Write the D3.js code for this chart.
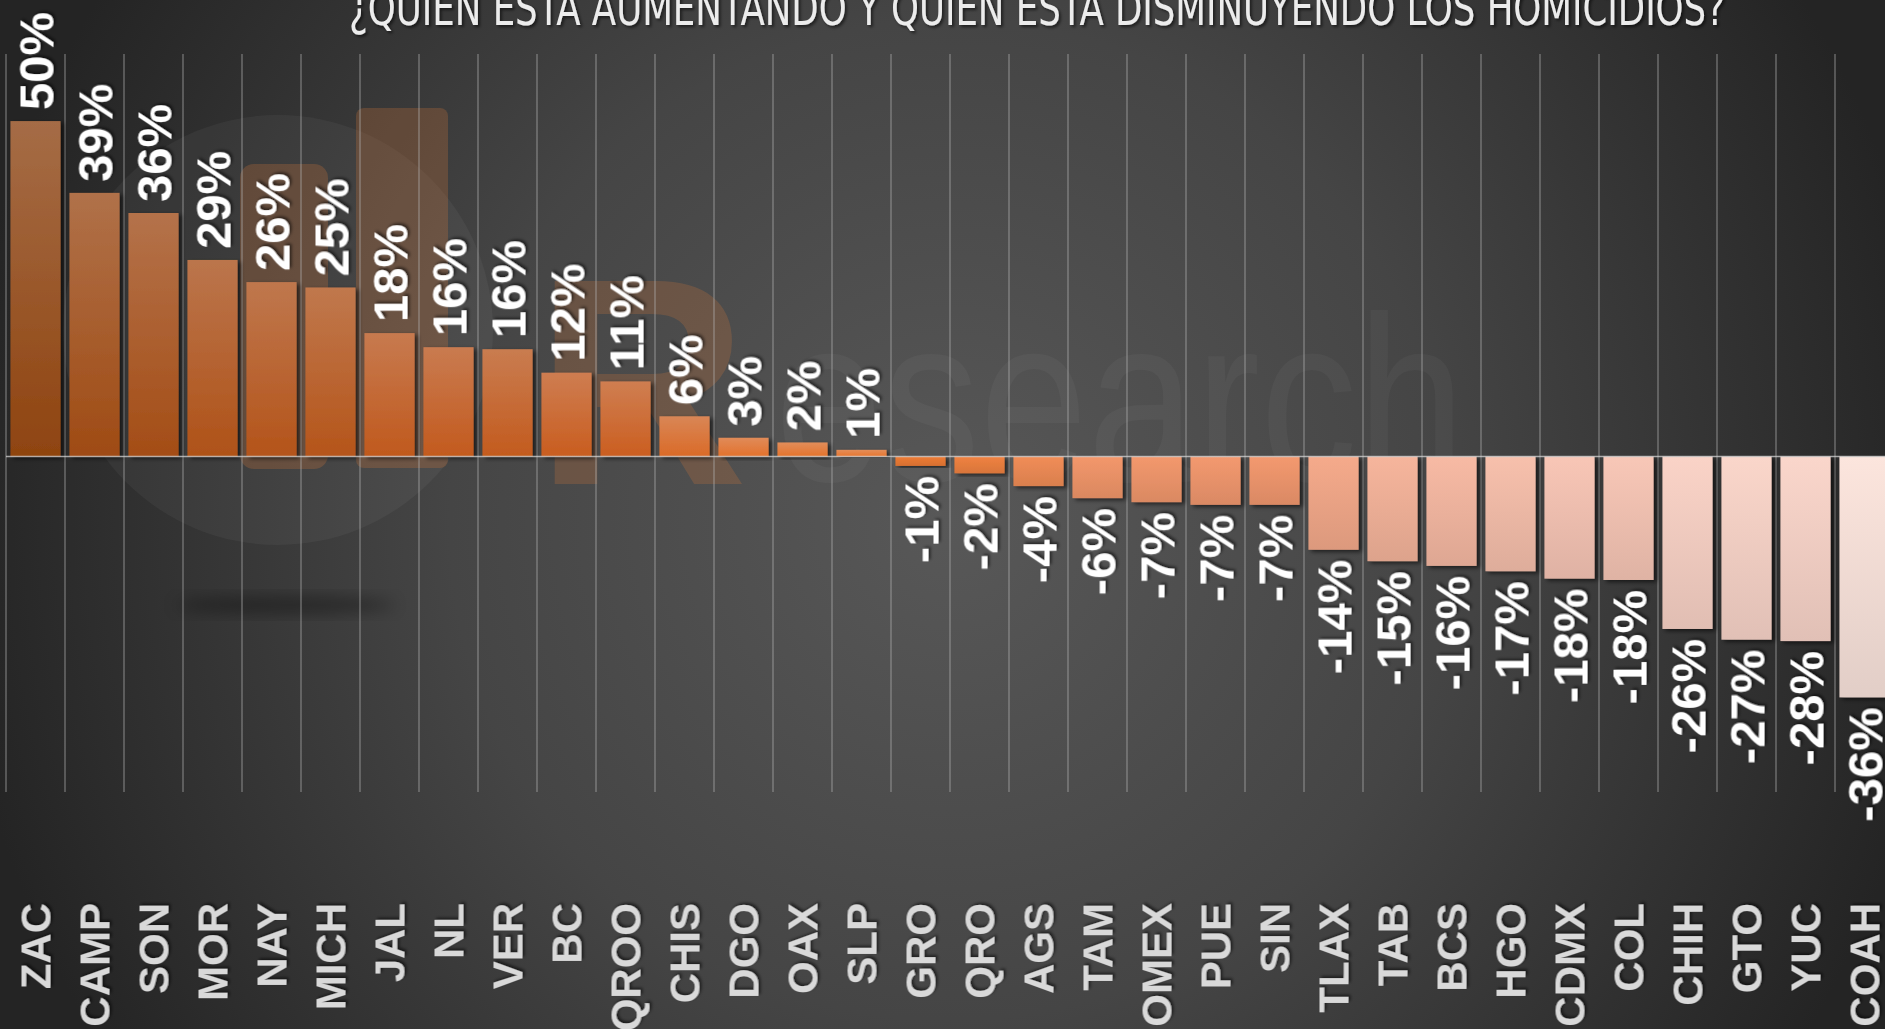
<!DOCTYPE html>
<html>
<head>
<meta charset="utf-8">
<script src="https://d3js.org/d3.v7.min.js"></script>
<style>
	body { margin: 0; overflow: hidden; background: #2a2a2a; }
</style>
</head>
<body>
<script>
var titulo = "¿QUIEN ESTA AUMENTANDO Y QUIEN ESTA DISMINUYENDO LOS HOMICIDIOS?";

var estados = ["ZAC","CAMP","SON","MOR","NAY","MICH","JAL","NL","VER","BC","QROO","CHIS","DGO","OAX","SLP",
	"GRO","QRO","AGS","TAM","OMEX","PUE","SIN","TLAX","TAB","BCS","HGO","CDMX","COL","CHIH","GTO","YUC","COAH"];

var cambio = [50, 39.3, 36.3, 29.3, 26.0, 25.2, 18.4, 16.3, 16.0, 12.5, 11.2, 6.0, 2.8, 2.1, 1.0,
	-1.4, -2.5, -4.4, -6.2, -6.8, -7.2, -7.2, -13.9, -15.6, -16.3, -17.1, -18.2, -18.4, -25.7, -27.3, -27.5, -35.9];

// etiquetas tal como aparecen
var etiquetas = ["50%","39%","36%","29%","26%","25%","18%","16%","16%","12%","11%","6%","3%","2%","1%",
	"-1%","-2%","-4%","-6%","-7%","-7%","-7%","-14%","-15%","-16%","-17%","-18%","-18%","-26%","-27%","-28%","-36%"];

var width = 1885, height = 1029;

var svg = d3.select("body").append("svg")
	.attr("width", width)
	.attr("height", height);

var defs = svg.append("defs");

// fondo
var bg = defs.append("radialGradient")
	.attr("id", "fondo")
	.attr("gradientUnits", "userSpaceOnUse")
	.attr("cx", 950).attr("cy", 520).attr("r", 1000);
bg.append("stop").attr("offset", "0").attr("stop-color", "#585858");
bg.append("stop").attr("offset", "0.5").attr("stop-color", "#454545");
bg.append("stop").attr("offset", "1").attr("stop-color", "#242424");

var sombra = defs.append("filter").attr("id", "sombra")
	.attr("x", "-20%").attr("y", "-20%").attr("width", "140%").attr("height", "140%");
sombra.append("feDropShadow")
	.attr("dx", 3).attr("dy", 2).attr("stdDeviation", 2)
	.attr("flood-color", "#000").attr("flood-opacity", 0.6);

var sombraTexto = defs.append("filter").attr("id", "sombraTexto")
	.attr("x", "-20%").attr("y", "-20%").attr("width", "140%").attr("height", "140%");
sombraTexto.append("feDropShadow")
	.attr("dx", 2).attr("dy", 2).attr("stdDeviation", 1.5)
	.attr("flood-color", "#000").attr("flood-opacity", 0.55);

var blur = defs.append("filter").attr("id", "blur")
	.attr("x", "-50%").attr("y", "-50%").attr("width", "200%").attr("height", "200%");
blur.append("feGaussianBlur").attr("stdDeviation", 8);

svg.append("rect")
	.attr("width", width)
	.attr("height", height)
	.attr("fill", "url(#fondo)");

// marca de agua
var marca = svg.append("g").attr("class", "marca");
marca.append("circle")
	.attr("cx", 278).attr("cy", 330).attr("r", 215)
	.attr("fill", "#fff").attr("opacity", 0.045);
marca.append("ellipse")
	.attr("cx", 285).attr("cy", 605).attr("rx", 110).attr("ry", 8)
	.attr("fill", "#000").attr("opacity", 0.35)
	.attr("filter", "url(#blur)");
marca.append("rect")
	.attr("x", 240).attr("y", 164).attr("width", 88).attr("height", 305).attr("rx", 14)
	.attr("fill", "#c9743a").attr("opacity", 0.28);
marca.append("rect")
	.attr("x", 356).attr("y", 108).attr("width", 92).attr("height", 360).attr("rx", 8)
	.attr("fill", "#c9743a").attr("opacity", 0.28);
marca.append("text")
	.attr("x", 535).attr("y", 484)
	.style("font-family", "Liberation Sans, Arial, sans-serif")
	.style("font-weight", "bold")
	.style("font-size", "295px")
	.attr("fill", "#c9743a").attr("opacity", 0.26)
	.text("R");
marca.append("text")
	.attr("x", 775).attr("y", 481)
	.attr("textLength", 690)
	.attr("lengthAdjust", "spacingAndGlyphs")
	.style("font-family", "Liberation Sans, Arial, sans-serif")
	.style("font-size", "235px")
	.attr("fill", "#fff").attr("opacity", 0.03)
	.text("esearch");

// escalas
var x = d3.scaleBand()
	.domain(estados)
	.range([6, 6 + estados.length * 59])
	.paddingInner(0.15)
	.paddingOuter(0.075);

var y = d3.scaleLinear()
	.domain([-50, 60])
	.range([792, 54]);

var color = d3.scaleLinear()
	.domain([50, 11, -1, -6, -14, -18, -36])
	.range(["#8f4410", "#cb5e20", "#ee7a30", "#f3966a", "#f5aa8b", "#f8c6b6", "#fce5dd"])
	.interpolate(d3.interpolateRgb);

// lineas verticales entre categorias
var bordes = d3.range(estados.length + 1).map(function(i){
	return x.range()[0] + i * x.step();
});

svg.append("g").selectAll("line")
	.data(bordes)
	.enter()
	.append("line")
	.attr("x1", function(d){ return d; })
	.attr("x2", function(d){ return d; })
	.attr("y1", y(60))
	.attr("y2", y(-50))
	.attr("stroke", "#b4b4b4")
	.attr("stroke-opacity", 0.7)
	.attr("stroke-width", 1);

var datos = estados.map(function(e, i){
	return { estado: e, valor: cambio[i], etiqueta: etiquetas[i], i: i };
});

// degradado de cada barra
datos.forEach(function(d){
	var c = color(d.valor);
	var g = defs.append("linearGradient")
		.attr("id", "barra" + d.i)
		.attr("x1", 0).attr("y1", 0).attr("x2", 0).attr("y2", 1);
	if (d.valor >= 0) {
		g.append("stop").attr("offset", "0").attr("stop-color", d3.interpolateRgb(c, "#d8c8c4")(0.3));
		g.append("stop").attr("offset", "1").attr("stop-color", c);
	} else {
		g.append("stop").attr("offset", "0").attr("stop-color", c);
		g.append("stop").attr("offset", "1").attr("stop-color", d3.rgb(c).darker(0.3));
	}
});

svg.append("g").selectAll("rect")
	.data(datos)
	.enter()
	.append("rect")
	.attr("x", function(d){ return x(d.estado); })
	.attr("width", x.bandwidth())
	.attr("y", function(d){ return y(Math.max(0, d.valor)); })
	.attr("height", function(d){ return Math.abs(y(d.valor) - y(0)); })
	.attr("fill", function(d){ return "url(#barra" + d.i + ")"; })
	.attr("filter", "url(#sombra)");

// linea del cero
svg.append("line")
	.attr("x1", x.range()[0])
	.attr("x2", width)
	.attr("y1", y(0))
	.attr("y2", y(0))
	.attr("stroke", "#d4d4d4")
	.attr("stroke-opacity", 0.75)
	.attr("stroke-width", 1.5);

// etiquetas de valor
svg.append("g").selectAll("text")
	.data(datos)
	.enter()
	.append("text")
	.attr("transform", function(d){
		var cx = x(d.estado) + x.bandwidth() / 2;
		var cy = d.valor >= 0 ? y(d.valor) - 11 : y(d.valor) + 10;
		return "translate(" + cx + "," + cy + ") rotate(-90)";
	})
	.attr("text-anchor", function(d){ return d.valor >= 0 ? "start" : "end"; })
	.attr("dy", "0.36em")
	.style("font-family", "Liberation Sans, Arial, sans-serif")
	.style("font-weight", "bold")
	.style("font-size", "49px")
	.attr("fill", "#ffffff")
	.attr("filter", "url(#sombraTexto)")
	.text(function(d){ return d.etiqueta; });

// etiquetas de estados
svg.append("g").selectAll("text")
	.data(datos)
	.enter()
	.append("text")
	.attr("transform", function(d){
		return "translate(" + (x(d.estado) + x.bandwidth() / 2) + ",903) rotate(-90)";
	})
	.attr("text-anchor", "end")
	.attr("dy", "0.36em")
	.style("font-family", "Liberation Sans, Arial, sans-serif")
	.style("font-weight", "bold")
	.style("font-size", "42px")
	.attr("fill", "#d9d9d9")
	.attr("filter", "url(#sombraTexto)")
	.text(function(d){ return d.estado; });

// titulo
svg.append("text")
	.attr("x", 349)
	.attr("y", 25)
	.attr("textLength", 1376)
	.attr("lengthAdjust", "spacingAndGlyphs")
	.style("font-family", "DejaVu Sans Condensed, Liberation Sans Narrow, sans-serif")
	.style("font-stretch", "condensed")
	.style("font-size", "48px")
	.attr("fill", "#ececec")
	.attr("filter", "url(#sombraTexto)")
	.text(titulo);
</script>
</body>
</html>
